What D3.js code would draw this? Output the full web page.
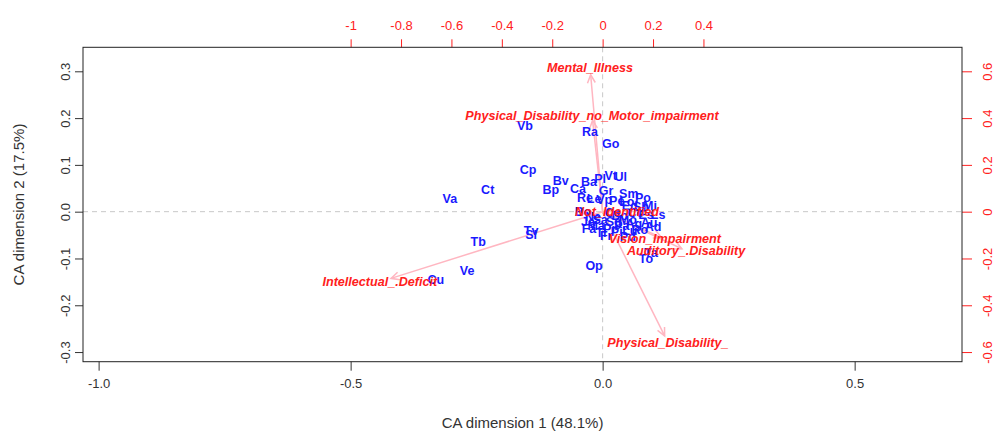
<!DOCTYPE html>
<html>
<head>
<meta charset="utf-8">
<script src="https://cdn.jsdelivr.net/npm/d3@7"></script>
<style>
  html, body { margin: 0; padding: 0; background: #fff; }
  svg { display: block; font-family: "Liberation Sans", Arial, sans-serif; }
</style>
</head>
<body>
<svg id="chart" width="995" height="431"></svg>
<script>
// ---- Row points (blue labels), principal coordinates ----
const rowLabels = ["Vb","Ra","Go","Cp","Ct","Va","Bv","Bp","Ca","Ba","Pl","Vt","Ul","Gr","Re","Vp","Pe","Sm","Po",
  "Tv","Sl","Tb","Ve","Cu","Op","Ta","To",
  "Le","Lo","Ed","Sh","Mi","Ls","Bo","Ne","Ja","Sa","Sg","Ag","Au","Ad","Ma","Fa","Pr","Pa","Lu","Ro","Ti","Fr","Pi","Do","Co","Mo","Es","Pd","Ce"];
const rowDim1 = [-0.154,-0.025,0.016,-0.148,-0.228,-0.303,-0.083,-0.103,-0.049,-0.027,-0.005,0.016,0.036,0.007,-0.035,0.003,0.028,0.052,0.080,
  -0.142,-0.142,-0.247,-0.269,-0.331,-0.017,0.096,0.086,
  -0.017,0.048,0.054,0.076,0.094,0.110,-0.039,-0.019,-0.029,-0.005,0.022,0.062,0.092,0.100,-0.013,-0.027,0.014,0.038,0.054,0.074,-0.003,0.007,0.028,0.034,0.066,0.050,0.086,0.050,0.020];
const rowDim2 = [0.184,0.172,0.146,0.089,0.048,0.027,0.067,0.048,0.050,0.065,0.070,0.078,0.074,0.044,0.029,0.025,0.023,0.038,0.029,
  -0.041,-0.050,-0.064,-0.126,-0.145,-0.116,-0.088,-0.101,
  0.027,0.021,0.012,0.010,0.012,-0.007,0.000,-0.011,-0.022,-0.018,-0.022,-0.026,-0.024,-0.033,-0.030,-0.037,-0.037,-0.030,-0.041,-0.039,-0.045,-0.052,-0.043,-0.009,-0.001,-0.016,-0.007,-0.054,-0.003];

// ---- Column points (red labels, arrows), secondary axes ----
const colLabels = ["Mental_Illness","Physical_Disability_no_Motor_impairment","Not_Identified","Vision_Impairment","Auditory_.Disability","Physical_Disability_","Intellectual_.Deficit"];
const colDim1 = [-0.050,-0.042,0.057,0.247,0.331,0.259,-0.884];
const colDim2 = [0.616,0.411,0.000,-0.117,-0.167,-0.559,-0.300];

// ---- Axis ticks and titles ----
const bottomTicks = [-1.0,-0.5,0.0,0.5];
const leftTicks = [-0.3,-0.2,-0.1,0.0,0.1,0.2,0.3];
const topTicks = [-1,-0.8,-0.6,-0.4,-0.2,0,0.2,0.4];
const rightTicks = [-0.6,-0.4,-0.2,0,0.2,0.4,0.6];
const xTitle = "CA dimension 1 (48.1%)";
const yTitle = "CA dimension 2 (17.5%)";

const svg = d3.select("#chart");
const L = 83, R = 962, T = 47.3, B = 361.7;

const x = d3.scaleLinear().domain([-1.031, 0.713]).range([L, R]);
const y = d3.scaleLinear().domain([-0.3206, 0.3513]).range([B, T]);
const x2 = d3.scaleLinear().domain([-1.031 * 2, 0.713 * 2]).range([L, R]);
const y2 = d3.scaleLinear().domain([-0.3206 * 2, 0.3513 * 2]).range([B, T]);

const axisCol = "#333";
const red = "#ff2020";

// reference dashed lines
svg.append("line").attr("x1", L).attr("x2", R).attr("y1", y(0)).attr("y2", y(0))
  .attr("stroke", "#c8c8c8").attr("stroke-dasharray", "5,4").attr("stroke-width", 1);
svg.append("line").attr("x1", x(0)).attr("x2", x(0)).attr("y1", T).attr("y2", B)
  .attr("stroke", "#c8c8c8").attr("stroke-dasharray", "5,4").attr("stroke-width", 1);

// axes
function styleAxis(g, color) {
  g.select(".domain").remove();
  g.selectAll(".tick line").attr("stroke", color);
  g.selectAll(".tick text").attr("fill", color).style("font-size", "13px")
    .style("font-family", "'Liberation Sans', Arial, sans-serif");
}
const gb = svg.append("g").attr("transform", `translate(0,${B})`)
  .call(d3.axisBottom(x).tickValues(bottomTicks).tickFormat(d3.format(".1f")).tickSize(9).tickPadding(8).tickSizeOuter(0));
styleAxis(gb, axisCol);
gb.selectAll(".tick text").text(d => d3.format(".1f")(d).replace("−", "-"));

const gl = svg.append("g").attr("transform", `translate(${L},0)`)
  .call(d3.axisLeft(y).tickValues(leftTicks).tickFormat(d3.format(".1f")).tickSize(8).tickSizeOuter(0));
styleAxis(gl, axisCol);
gl.selectAll(".tick text").text(d => d3.format(".1f")(d).replace("−", "-"))
  .attr("transform", "translate(-18,0) rotate(-90)").attr("x", 0).attr("dy", "0.35em").attr("text-anchor", "middle");

const gt = svg.append("g").attr("transform", `translate(0,${T})`)
  .call(d3.axisTop(x2).tickValues(topTicks).tickFormat(d => String(d)).tickSize(8).tickPadding(9).tickSizeOuter(0));
styleAxis(gt, red);

const gr = svg.append("g").attr("transform", `translate(${R},0)`)
  .call(d3.axisRight(y2).tickValues(rightTicks).tickFormat(d => String(d)).tickSize(10).tickSizeOuter(0));
styleAxis(gr, red);
gr.selectAll(".tick text")
  .attr("transform", "translate(25,0) rotate(-90)").attr("x", 0).attr("dy", "0.35em").attr("text-anchor", "middle");

// frame
svg.append("rect").attr("x", L).attr("y", T).attr("width", R - L).attr("height", B - T)
  .attr("fill", "none").attr("stroke", "#222").attr("stroke-width", 1);

// titles
svg.append("text").attr("x", (L + R) / 2).attr("y", 428).attr("text-anchor", "middle")
  .style("font-size", "15px").attr("fill", "#333").text(xTitle);
svg.append("text").attr("transform", `translate(24,${(T + B) / 2}) rotate(-90)`).attr("text-anchor", "middle")
  .style("font-size", "15px").attr("fill", "#333").text(yTitle);

// arrows (columns)
const pink = "#ffb6c1";
const arrowFrac = 0.95;
const cols = colLabels.map((l, i) => ({ label: l, d1: colDim1[i], d2: colDim2[i] }));
const ga = svg.append("g");
cols.forEach(c => {
  const x0 = x2(0), y0 = y2(0);
  const x1 = x2(c.d1 * arrowFrac), y1 = y2(c.d2 * arrowFrac);
  ga.append("line").attr("x1", x0).attr("y1", y0).attr("x2", x1).attr("y2", y1)
    .attr("stroke", pink).attr("stroke-width", 1.5);
  const ang = Math.atan2(y1 - y0, x1 - x0);
  const hl = 9, ha = Math.PI / 7;
  const p1 = [x1 - hl * Math.cos(ang - ha), y1 - hl * Math.sin(ang - ha)];
  const p2 = [x1 - hl * Math.cos(ang + ha), y1 - hl * Math.sin(ang + ha)];
  ga.append("path").attr("d", `M${p1[0]},${p1[1]}L${x1},${y1}L${p2[0]},${p2[1]}`)
    .attr("fill", "none").attr("stroke", pink).attr("stroke-width", 1.5);
});

// row labels
const rows = rowLabels.map((l, i) => ({ label: l, d1: rowDim1[i], d2: rowDim2[i] }));
svg.append("g").selectAll("text").data(rows).join("text")
  .attr("x", d => x(d.d1)).attr("y", d => y(d.d2)).attr("dy", "0.35em")
  .attr("text-anchor", "middle").attr("fill", "#1a1aff")
  .style("font-size", "12.5px").style("font-weight", "bold")
  .text(d => d.label);

// column labels
svg.append("g").selectAll("text").data(cols).join("text")
  .attr("x", d => x2(d.d1)).attr("y", d => y2(d.d2)).attr("dy", "0.35em")
  .attr("text-anchor", "middle").attr("fill", red)
  .style("font-size", "12.6px").style("font-weight", "bold").style("font-style", "italic")
  .text(d => d.label);
</script>
</body>
</html>
